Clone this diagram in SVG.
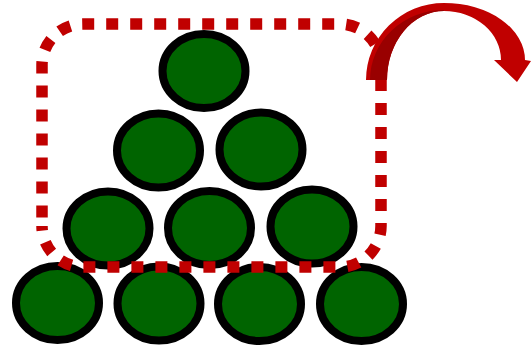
<svg xmlns="http://www.w3.org/2000/svg" width="531" height="350" viewBox="0 0 531 350">
<style>
.ball{fill:#006400;stroke:#000;stroke-width:8}
.dots{fill:none;stroke:#C00000;stroke-width:11.5;stroke-dasharray:12 12;stroke-dashoffset:15.5;stroke-linecap:butt}
.arr{fill:#C00000}
.arrdark{fill:#990000}
</style>
<rect width="531" height="350" fill="#fff"/>
<g id="balls">
<g id="b1"><ellipse class="ball" cx="204" cy="71" rx="41.5" ry="37"/></g>
<g id="b2"><ellipse class="ball" cx="158.5" cy="150.5" rx="41.5" ry="37"/></g>
<g id="b3"><ellipse class="ball" cx="261" cy="149.5" rx="41.5" ry="37"/></g>
<g id="b4"><ellipse class="ball" cx="108" cy="228.5" rx="41.5" ry="37"/></g>
<g id="b5"><ellipse class="ball" cx="209.5" cy="228" rx="41.5" ry="37"/></g>
<g id="b6"><ellipse class="ball" cx="312" cy="226.5" rx="41.5" ry="37"/></g>
<g id="b7"><ellipse class="ball" cx="57.5" cy="303" rx="41.5" ry="37"/></g>
<g id="b8"><ellipse class="ball" cx="159" cy="303.5" rx="41.5" ry="37"/></g>
<g id="b9"><ellipse class="ball" cx="259.5" cy="304" rx="41.5" ry="37"/></g>
<g id="b10"><ellipse class="ball" cx="361.5" cy="304" rx="41.5" ry="37"/></g>
</g>
<g id="selection">
<path class="dots" d="M42,226 V65 A41,41 0 0 1 83,24 H340 A41,41 0 0 1 381,65 V226 A41,41 0 0 1 340,267 H83 A41,41 0 0 1 42,226"/>
</g>
<g id="arrow">
<path class="arr" d="M366,80 A78,77 0 0 1 444,3 A81,57 0 0 1 525,60 L531,61 L517,82 L494,60 L501,60 A57,49 0 0 0 444,11 A57,69 0 0 0 387,80 Z"/>
<path class="arrdark" d="M370,80 A74,70 0 0 1 444,10 L444,11 A57,69 0 0 0 387,80 Z"/>
</g>
</svg>
